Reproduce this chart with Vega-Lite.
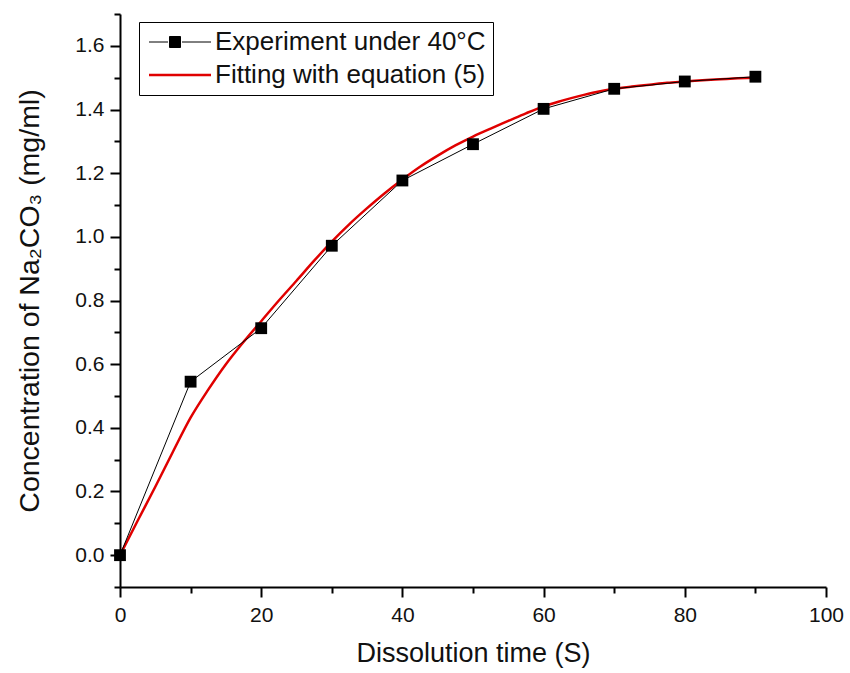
{
  "$schema": "https://vega.github.io/schema/vega-lite/v6.json",
  "autosize": {"type": "none"},
  "padding": {"left": 120, "top": 14, "right": 24, "bottom": 86},
  "width": 706,
  "height": 573,
  "background": "white",
  "config": {
    "font": "Liberation Sans",
    "view": {"stroke": null},
    "axis": {
      "domainColor": "black",
      "domainWidth": 2,
      "tickColor": "black",
      "tickWidth": 2,
      "grid": false,
      "labelFont": "Liberation Sans",
      "labelFontSize": 21,
      "labelColor": "#111",
      "titleFont": "Liberation Sans",
      "titleFontSize": 27,
      "titleFontWeight": "normal",
      "titleColor": "#111"
    }
  },
  "datasets": {
    "exp": [
      {"t": 0, "c": 0.0, "series": "Experiment under 40°C"},
      {"t": 10, "c": 0.545, "series": "Experiment under 40°C"},
      {"t": 20, "c": 0.713, "series": "Experiment under 40°C"},
      {"t": 30, "c": 0.972, "series": "Experiment under 40°C"},
      {"t": 40, "c": 1.177, "series": "Experiment under 40°C"},
      {"t": 50, "c": 1.291, "series": "Experiment under 40°C"},
      {"t": 60, "c": 1.402, "series": "Experiment under 40°C"},
      {"t": 70, "c": 1.465, "series": "Experiment under 40°C"},
      {"t": 80, "c": 1.488, "series": "Experiment under 40°C"},
      {"t": 90, "c": 1.503, "series": "Experiment under 40°C"}
    ],
    "fit": [
      {"t": 0, "c": 0.0, "series": "Fitting with equation (5)"},
      {"t": 2.5, "c": 0.108, "series": "Fitting with equation (5)"},
      {"t": 5, "c": 0.215, "series": "Fitting with equation (5)"},
      {"t": 7.5, "c": 0.325, "series": "Fitting with equation (5)"},
      {"t": 10, "c": 0.432, "series": "Fitting with equation (5)"},
      {"t": 12.5, "c": 0.52, "series": "Fitting with equation (5)"},
      {"t": 15, "c": 0.6, "series": "Fitting with equation (5)"},
      {"t": 17.5, "c": 0.67, "series": "Fitting with equation (5)"},
      {"t": 20, "c": 0.735, "series": "Fitting with equation (5)"},
      {"t": 22.5, "c": 0.8, "series": "Fitting with equation (5)"},
      {"t": 25, "c": 0.862, "series": "Fitting with equation (5)"},
      {"t": 27.5, "c": 0.925, "series": "Fitting with equation (5)"},
      {"t": 30, "c": 0.985, "series": "Fitting with equation (5)"},
      {"t": 32.5, "c": 1.04, "series": "Fitting with equation (5)"},
      {"t": 35, "c": 1.09, "series": "Fitting with equation (5)"},
      {"t": 37.5, "c": 1.137, "series": "Fitting with equation (5)"},
      {"t": 40, "c": 1.18, "series": "Fitting with equation (5)"},
      {"t": 42.5, "c": 1.22, "series": "Fitting with equation (5)"},
      {"t": 45, "c": 1.255, "series": "Fitting with equation (5)"},
      {"t": 47.5, "c": 1.287, "series": "Fitting with equation (5)"},
      {"t": 50, "c": 1.315, "series": "Fitting with equation (5)"},
      {"t": 52.5, "c": 1.34, "series": "Fitting with equation (5)"},
      {"t": 55, "c": 1.364, "series": "Fitting with equation (5)"},
      {"t": 57.5, "c": 1.388, "series": "Fitting with equation (5)"},
      {"t": 60, "c": 1.41, "series": "Fitting with equation (5)"},
      {"t": 62.5, "c": 1.427, "series": "Fitting with equation (5)"},
      {"t": 65, "c": 1.442, "series": "Fitting with equation (5)"},
      {"t": 67.5, "c": 1.455, "series": "Fitting with equation (5)"},
      {"t": 70, "c": 1.465, "series": "Fitting with equation (5)"},
      {"t": 72.5, "c": 1.472, "series": "Fitting with equation (5)"},
      {"t": 75, "c": 1.478, "series": "Fitting with equation (5)"},
      {"t": 77.5, "c": 1.484, "series": "Fitting with equation (5)"},
      {"t": 80, "c": 1.488, "series": "Fitting with equation (5)"},
      {"t": 82.5, "c": 1.492, "series": "Fitting with equation (5)"},
      {"t": 85, "c": 1.495, "series": "Fitting with equation (5)"},
      {"t": 87.5, "c": 1.498, "series": "Fitting with equation (5)"},
      {"t": 90, "c": 1.5, "series": "Fitting with equation (5)"}
    ]
  },
  "encoding": {
    "x": {
      "field": "t", "type": "quantitative",
      "scale": {"domain": [0, 100], "nice": false, "zero": false},
      "axis": {
        "title": "Dissolution time (S)",
        "values": [0, 10, 20, 30, 40, 50, 60, 70, 80, 90, 100],
        "labelExpr": "datum.value % 20 === 0 ? datum.label : ''",
        "tickSize": {"condition": {"test": "datum.value % 20 !== 0", "value": 6}, "value": 10},
        "labelPadding": 7,
        "titlePadding": 15,
        "labelFlush": false
      }
    },
    "y": {
      "field": "c", "type": "quantitative",
      "scale": {"domain": [-0.1, 1.7], "nice": false, "zero": false},
      "axis": {
        "title": "Concentration of Na₂CO₃ (mg/ml)",
        "titleFontSize": 28.5,
        "values": [-0.1, 0, 0.1, 0.2, 0.3, 0.4, 0.5, 0.6, 0.7, 0.8, 0.9, 1.0, 1.1, 1.2, 1.3, 1.4, 1.5, 1.6, 1.7],
        "labelExpr": "abs(round(datum.value*10)) % 2 === 0 ? format(datum.value, '.1f') : ''",
        "tickSize": {"condition": {"test": "abs(round(datum.value*10)) % 2 === 1", "value": 6}, "value": 10},
        "labelPadding": 6,
        "titlePadding": 30,
        "labelFlush": false
      }
    }
  },
  "layer": [
    {
      "data": {"name": "fit"},
      "mark": {"type": "line", "strokeWidth": 2.5, "interpolate": "monotone"},
      "encoding": {
        "color": {
          "field": "series", "type": "nominal",
          "scale": {"domain": ["Experiment under 40°C", "Fitting with equation (5)"], "range": ["black", "#e00000"]},
          "legend": {
            "title": null,
            "orient": "none",
            "legendX": 19,
            "legendY": 8,
            "padding": 7,
            "strokeColor": "black",
            "fillColor": "white",
            "labelFontSize": 26,
            "labelFont": "Liberation Sans",
            "labelColor": "#111",
            "labelLimit": 500,
            "labelOffset": 43,
            "rowPadding": 7,
            "symbolSize": 400,
            "symbolType": "M-1,0H5.4",
            "encode": {
              "symbols": {
                "update": {
                  "shape": {"signal": "datum.value === 'Experiment under 40°C' ? 'M-1,0H0.9M2.3,0H5.2M1.05,-0.55H2.15V0.55H1.05Z' : 'M-1,0H5.2'"},
                  "fill": {"signal": "datum.value === 'Experiment under 40°C' ? 'black' : 'transparent'"},
                  "strokeWidth": {"signal": "datum.value === 'Experiment under 40°C' ? 1 : 2.5"}
                }
              }
            }
          }
        }
      }
    },
    {
      "data": {"name": "exp"},
      "mark": {"type": "line", "strokeWidth": 1},
      "encoding": {
        "color": {"field": "series", "type": "nominal"}
      }
    },
    {
      "data": {"name": "exp"},
      "mark": {"type": "point", "shape": "square", "filled": true, "size": 140, "color": "black", "opacity": 1}
    }
  ]
}
